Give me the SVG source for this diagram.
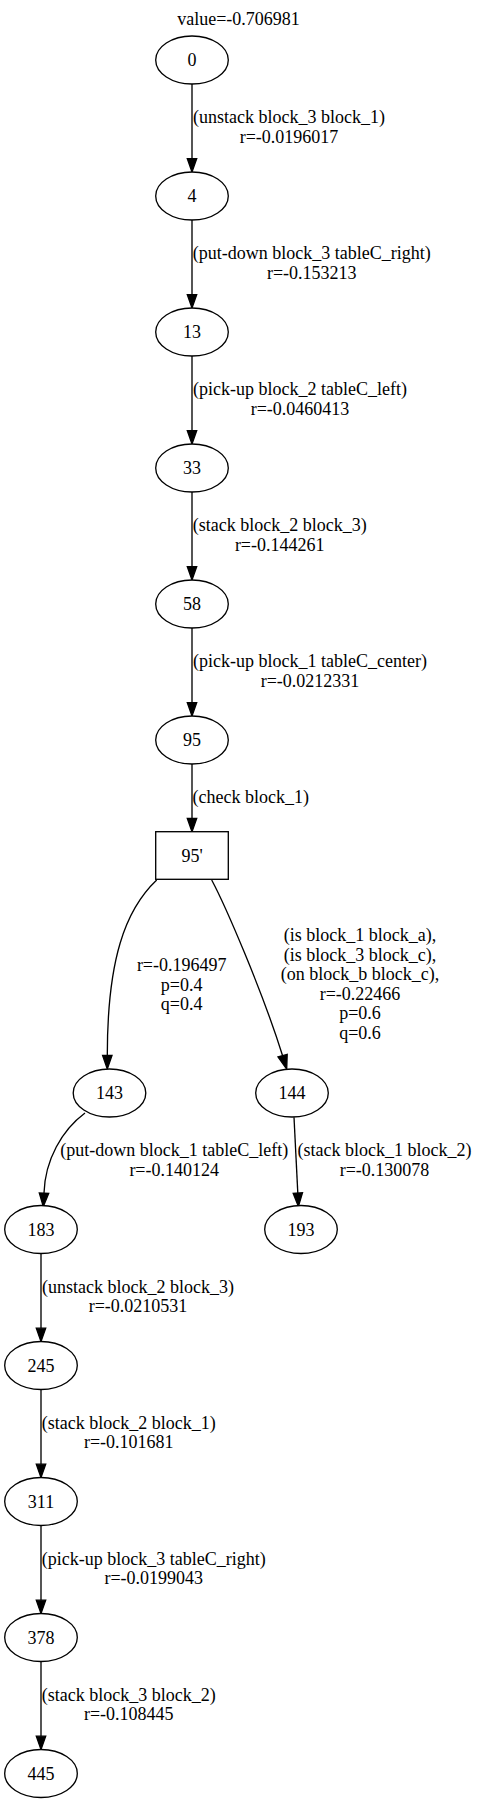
<svg xmlns="http://www.w3.org/2000/svg" width="479" height="1803" viewBox="0 0 479 1803">
<style>
text{font-family:"Liberation Serif","Times New Roman",serif;font-size:18px;fill:#000;text-anchor:middle}
.n{fill:#fff;stroke:#000;stroke-width:1.33}
.e path{fill:none;stroke:#000;stroke-width:1.33}
.e polygon{fill:#000;stroke:#000;stroke-width:1.33}
</style>
<rect width="479" height="1803" fill="#fff"/>
<text x="238.5" y="25">value=-0.706981</text>
<g id="connectors" class="e">
<path d="M192,84V158.7"/><polygon points="192,172 187.3,158.7 196.7,158.7"/>
<path d="M192,220V294.7"/><polygon points="192,308 187.3,294.7 196.7,294.7"/>
<path d="M192,356V430.7"/><polygon points="192,444 187.3,430.7 196.7,430.7"/>
<path d="M192,492V566.7"/><polygon points="192,580 187.3,566.7 196.7,566.7"/>
<path d="M192,628V702.7"/><polygon points="192,716 187.3,702.7 196.7,702.7"/>
<path d="M192,764V818.4"/><polygon points="192,831.7 187.3,818.4 196.7,818.4"/>
<path d="M156.7,880C125,910 107.3,960 107.3,1055.5"/><polygon points="107.3,1069 102.6,1055.5 112,1055.5"/>
<path d="M211.7,880C225,905 262,990 282.6,1055.7"/><polygon points="286.7,1069 278,1057 287.2,1054.4"/>
<path d="M85,1113C62,1130 45,1160 44,1193"/><polygon points="43.3,1206.5 39.3,1193 48.7,1193.3"/>
<path d="M294,1117.3L297.8,1193"/><polygon points="298.4,1206.5 293.2,1193.3 302.5,1192.8"/>
<path d="M41,1253.5V1328.2"/><polygon points="41,1341.5 36.3,1328.2 45.7,1328.2"/>
<path d="M41,1389.5V1464.2"/><polygon points="41,1477.5 36.3,1464.2 45.7,1464.2"/>
<path d="M41,1525.5V1600.2"/><polygon points="41,1613.5 36.3,1600.2 45.7,1600.2"/>
<path d="M41,1661.5V1736.2"/><polygon points="41,1749.5 36.3,1736.2 45.7,1736.2"/>
<text x="289" y="123.3">(unstack block_3 block_1)</text><text x="289" y="142.9">r=-0.0196017</text>
<text x="311.8" y="259.3">(put-down block_3 tableC_right)</text><text x="311.8" y="278.9">r=-0.153213</text>
<text x="300" y="395.3">(pick-up block_2 tableC_left)</text><text x="300" y="414.9">r=-0.0460413</text>
<text x="279.7" y="531.3">(stack block_2 block_3)</text><text x="279.7" y="550.9">r=-0.144261</text>
<text x="310" y="667.3">(pick-up block_1 tableC_center)</text><text x="310" y="686.9">r=-0.0212331</text>
<text x="250.8" y="803">(check block_1)</text>
<text x="181.7" y="971">r=-0.196497</text><text x="181.7" y="990.6">p=0.4</text><text x="181.7" y="1010.2">q=0.4</text>
<text x="360" y="941">(is block_1 block_a),</text><text x="360" y="960.6">(is block_3 block_c),</text><text x="360" y="980.2">(on block_b block_c),</text><text x="360" y="999.8">r=-0.22466</text><text x="360" y="1019.4">p=0.6</text><text x="360" y="1039">q=0.6</text>
<text x="174.2" y="1156.3">(put-down block_1 tableC_left)</text><text x="174.2" y="1175.9">r=-0.140124</text>
<text x="384.5" y="1156.3">(stack block_1 block_2)</text><text x="384.5" y="1175.9">r=-0.130078</text>
<text x="138" y="1292.8">(unstack block_2 block_3)</text><text x="138" y="1312.4">r=-0.0210531</text>
<text x="128.8" y="1428.8">(stack block_2 block_1)</text><text x="128.8" y="1448.4">r=-0.101681</text>
<text x="153.8" y="1564.8">(pick-up block_3 tableC_right)</text><text x="153.8" y="1584.4">r=-0.0199043</text>
<text x="128.8" y="1700.8">(stack block_3 block_2)</text><text x="128.8" y="1720.4">r=-0.108445</text>
</g>
<g id="node0"><ellipse class="n" cx="192" cy="60" rx="36.3" ry="24"/><text x="192" y="66">0</text></g>
<g id="node4"><ellipse class="n" cx="192" cy="196" rx="36.3" ry="24"/><text x="192" y="202">4</text></g>
<g id="node13"><ellipse class="n" cx="192" cy="332" rx="36.3" ry="24"/><text x="192" y="338">13</text></g>
<g id="node33"><ellipse class="n" cx="192" cy="468" rx="36.3" ry="24"/><text x="192" y="474">33</text></g>
<g id="node58"><ellipse class="n" cx="192" cy="604" rx="36.3" ry="24"/><text x="192" y="610">58</text></g>
<g id="node95"><ellipse class="n" cx="192" cy="740" rx="36.3" ry="24"/><text x="192" y="746">95</text></g>
<g id="node95p"><rect class="n" x="155.7" y="831.7" width="72.6" height="47.6"/><text x="192" y="861.5">95'</text></g>
<g id="node143"><ellipse class="n" cx="109.5" cy="1093" rx="36.3" ry="24"/><text x="109.5" y="1099">143</text></g>
<g id="node144"><ellipse class="n" cx="292" cy="1093" rx="36.3" ry="24"/><text x="292" y="1099">144</text></g>
<g id="node183"><ellipse class="n" cx="41" cy="1229.5" rx="36.3" ry="24"/><text x="41" y="1235.5">183</text></g>
<g id="node193"><ellipse class="n" cx="301" cy="1229.5" rx="36.3" ry="24"/><text x="301" y="1235.5">193</text></g>
<g id="node245"><ellipse class="n" cx="41" cy="1365.5" rx="36.3" ry="24"/><text x="41" y="1371.5">245</text></g>
<g id="node311"><ellipse class="n" cx="41" cy="1501.5" rx="36.3" ry="24"/><text x="41" y="1507.5">311</text></g>
<g id="node378"><ellipse class="n" cx="41" cy="1637.5" rx="36.3" ry="24"/><text x="41" y="1643.5">378</text></g>
<g id="node445"><ellipse class="n" cx="41" cy="1773.5" rx="36.3" ry="24"/><text x="41" y="1779.5">445</text></g>
</svg>
